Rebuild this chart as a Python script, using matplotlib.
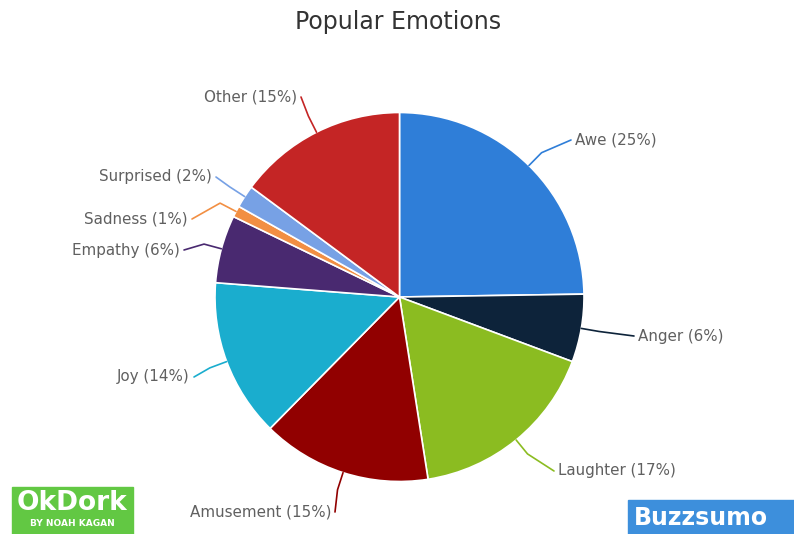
import numpy as np
import matplotlib.pyplot as plt
from matplotlib.patches import Rectangle

emotions = ['Awe', 'Anger', 'Laughter', 'Amusement', 'Joy', 'Empathy',
            'Sadness', 'Surprised', 'Other']
shares = [25, 6, 17, 15, 14, 6, 1, 2, 15]
colors = ['#2f7ed8', '#0d233a', '#8bbc21', '#910000', '#1aadce',
          '#492970', '#f28f43', '#77a1e5', '#c42525']

# label anchor in image pixels (x, y) and alignment
label_pos = [(575, 140, 'left'), (638, 336, 'left'), (558, 471, 'left'),
             (331, 512, 'right'), (190, 377, 'right'), (180, 250, 'right'),
             (188, 219, 'right'), (212, 177, 'right'), (297, 97, 'right')]

W, H = 794, 534
fig = plt.figure(figsize=(7.94, 5.34), dpi=100)
ax = fig.add_axes([0, 0, 1, 1])

cx, cy, r = 399.5, H - 297, 184.5
wedges, _ = ax.pie(shares, colors=colors, startangle=90, counterclock=False,
                   center=(cx, cy), radius=r, frame=True,
                   wedgeprops=dict(edgecolor='white', linewidth=1.2))
ax.set_xlim(0, W)
ax.set_ylim(0, H)
ax.set_aspect('equal')
ax.axis('off')

for w, name, val, (lx, ly, ha) in zip(wedges, emotions, shares, label_pos):
    ang = np.deg2rad((w.theta1 + w.theta2) / 2)
    x0, y0 = cx + r * np.cos(ang), cy + r * np.sin(ang)
    x1, y1 = cx + (r + 18) * np.cos(ang), cy + (r + 18) * np.sin(ang)
    ty = H - ly
    tx = lx - 4 if ha == 'left' else lx + 4
    ax.plot([x0, x1, tx], [y0, y1, ty], color=w.get_facecolor(), lw=1.2,
            solid_capstyle='round', solid_joinstyle='round')
    ax.text(lx, ty, f'{name} ({val}%)', ha=ha, va='center', fontsize=10.9,
            color='#606060')

ax.text(W / 2 + 1, H - 22, 'Popular Emotions', ha='center', va='center',
        fontsize=17, color='#333333')

# logos
ax.add_patch(Rectangle((12, 0), 121, H - 487, color='#62c843', zorder=5))
ax.text(72, H - 503, 'OkDork', ha='center', va='center', fontsize=19,
        color='white', fontweight='bold', zorder=6)
ax.text(72, H - 524, 'BY NOAH KAGAN', ha='center', va='center', fontsize=6.5,
        color='white', fontweight='bold', zorder=6)
ax.add_patch(Rectangle((628, 0), 166, H - 500, color='#3d8fdc', zorder=5))
ax.text(634, H - 518, 'Buzzsumo', ha='left', va='center', fontsize=17,
        color='white', fontweight='bold', zorder=6)

fig.savefig('out.png', dpi=100)
